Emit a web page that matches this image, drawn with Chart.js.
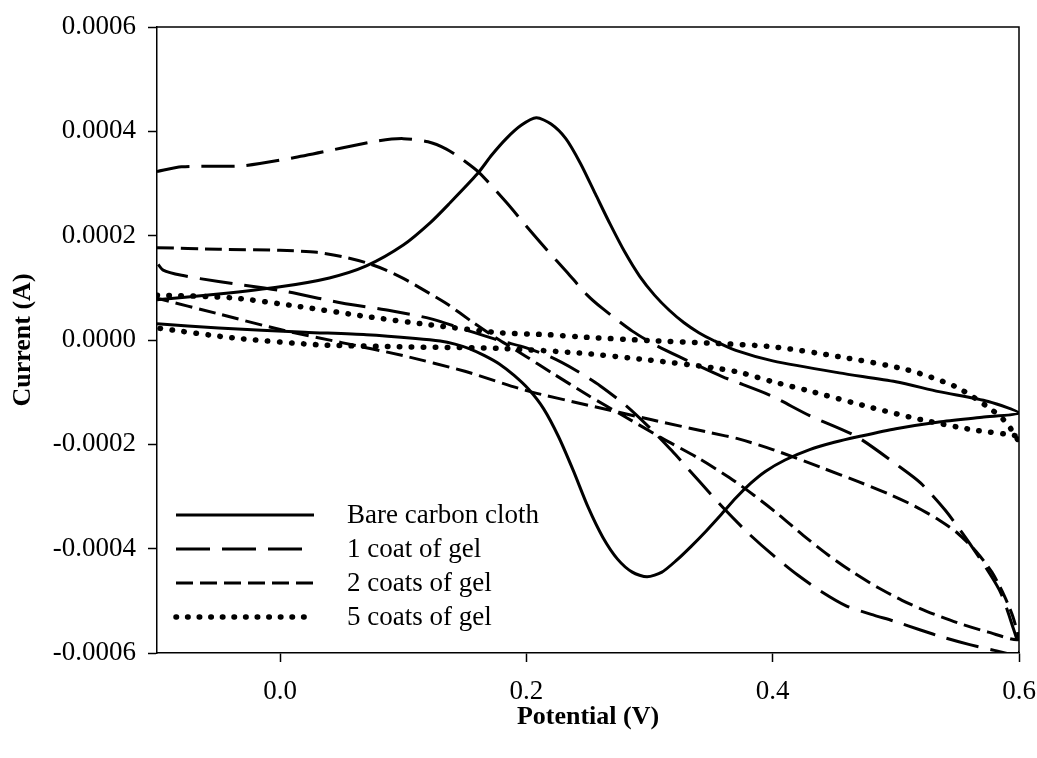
<!DOCTYPE html>
<html>
<head>
<meta charset="utf-8">
<script src="https://cdn.jsdelivr.net/npm/chart.js@4.4.0/dist/chart.umd.min.js"></script>
<style>
  html, body { margin: 0; padding: 0; background: #fff; }
  #wrap { width: 1037px; height: 758px; }
</style>
</head>
<body>
<div id="wrap"><canvas id="cvChart"></canvas></div>
<script>
// cyclic voltammograms: potential (V) out to 0.6 V and back, current (A)

var bareV = [-0.1, -0.05, 0.0, 0.04, 0.07, 0.1, 0.122, 0.138, 0.16, 0.172, 0.184, 0.196, 0.208, 0.22, 0.232, 0.244, 0.256, 0.268, 0.28, 0.292, 0.304, 0.316, 0.328, 0.34, 0.352, 0.37, 0.4, 0.454, 0.5, 0.535, 0.575, 0.6,
  0.57, 0.535, 0.5, 0.47, 0.45, 0.43, 0.41, 0.394, 0.382, 0.37, 0.358, 0.346, 0.334, 0.322, 0.31, 0.298, 0.286, 0.274, 0.262, 0.25, 0.238, 0.226, 0.214, 0.202, 0.19, 0.178, 0.166, 0.154, 0.142, 0.13, 0.11, 0.07, 0.02, -0.05, -0.1]
var bareI = [0.77e-4, 0.88e-4, 1.02e-4, 1.19e-4, 1.42e-4, 1.82e-4, 2.25e-4, 2.63e-4, 3.18e-4, 3.55e-4, 3.87e-4, 4.12e-4, 4.26e-4, 4.14e-4, 3.86e-4, 3.38e-4, 2.8e-4, 2.22e-4, 1.68e-4, 1.22e-4, 0.86e-4, 0.57e-4, 0.33e-4, 0.14e-4, -0.01e-4, -0.2e-4, -0.4e-4, -0.63e-4, -0.8e-4, -0.99e-4, -1.18e-4, -1.40e-4,
  -1.48e-4, -1.57e-4, -1.7e-4, -1.85e-4, -1.96e-4, -2.1e-4, -2.3e-4, -2.52e-4, -2.75e-4, -3.03e-4, -3.35e-4, -3.66e-4, -3.95e-4, -4.22e-4, -4.45e-4, -4.54e-4, -4.45e-4, -4.2e-4, -3.78e-4, -3.2e-4, -2.5e-4, -1.85e-4, -1.32e-4, -0.95e-4, -0.68e-4, -0.46e-4, -0.3e-4, -0.17e-4, -0.08e-4, -0.02e-4, 0.03e-4, 0.1e-4, 0.15e-4, 0.23e-4, 0.31e-4]

var coat1V = [-0.1, -0.08, -0.03, 0.01, 0.05, 0.08, 0.1, 0.12, 0.135, 0.148, 0.162, 0.184, 0.2, 0.2165, 0.233, 0.249, 0.262, 0.286, 0.305, 0.324, 0.359, 0.397, 0.43, 0.468, 0.503, 0.52, 0.54, 0.562, 0.584, 0.594, 0.6,
  0.58, 0.56, 0.54, 0.52, 0.5, 0.48, 0.46, 0.44, 0.42, 0.4, 0.38, 0.36, 0.34, 0.318, 0.3, 0.282, 0.26, 0.24, 0.22, 0.2, 0.178, 0.15, 0.122, 0.09, 0.05, 0.0, -0.05, -0.08, -0.095, -0.1]
var coat1I = [3.23e-4, 3.32e-4, 3.34e-4, 3.49e-4, 3.68e-4, 3.82e-4, 3.86e-4, 3.8e-4, 3.66e-4, 3.46e-4, 3.2e-4, 2.63e-4, 2.18e-4, 1.73e-4, 1.3e-4, 0.87e-4, 0.6e-4, 0.17e-4, -0.1e-4, -0.32e-4, -0.7e-4, -1.05e-4, -1.45e-4, -1.85e-4, -2.43e-4, -2.74e-4, -3.26e-4, -3.97e-4, -4.79e-4, -5.43e-4, -6.02e-4,
  -5.95e-4, -5.84e-4, -5.71e-4, -5.56e-4, -5.4e-4, -5.26e-4, -5.1e-4, -4.83e-4, -4.5e-4, -4.12e-4, -3.7e-4, -3.22e-4, -2.7e-4, -2.12e-4, -1.68e-4, -1.28e-4, -0.88e-4, -0.58e-4, -0.33e-4, -0.15e-4, -0.01e-4, 0.2e-4, 0.41e-4, 0.56e-4, 0.71e-4, 0.95e-4, 1.12e-4, 1.24e-4, 1.34e-4, 1.48e-4]

var coat2V = [-0.1, -0.05, 0.0, 0.03, 0.05, 0.07, 0.085, 0.1, 0.115, 0.135, 0.157, 0.178, 0.2, 0.22, 0.25, 0.28, 0.31, 0.34, 0.365, 0.385, 0.405, 0.425, 0.445, 0.465, 0.485, 0.505, 0.525, 0.55, 0.575, 0.6,
  0.595, 0.588, 0.578, 0.565, 0.55, 0.535, 0.515, 0.494, 0.47, 0.44, 0.4, 0.373, 0.35, 0.3, 0.25, 0.2, 0.15, 0.1, 0.05, 0.0, -0.05, -0.1]
var coat2I = [1.77e-4, 1.74e-4, 1.72e-4, 1.68e-4, 1.6e-4, 1.48e-4, 1.35e-4, 1.18e-4, 0.98e-4, 0.7e-4, 0.33e-4, 0.0, -0.32e-4, -0.62e-4, -1.06e-4, -1.47e-4, -1.88e-4, -2.27e-4, -2.64e-4, -2.98e-4, -3.35e-4, -3.75e-4, -4.12e-4, -4.45e-4, -4.74e-4, -4.99e-4, -5.2e-4, -5.42e-4, -5.6e-4, -5.74e-4,
  -5.3e-4, -4.9e-4, -4.45e-4, -4.05e-4, -3.7e-4, -3.45e-4, -3.18e-4, -2.95e-4, -2.72e-4, -2.45e-4, -2.1e-4, -1.9e-4, -1.78e-4, -1.52e-4, -1.25e-4, -0.97e-4, -0.6e-4, -0.3e-4, -0.05e-4, 0.2e-4, 0.5e-4, 0.8e-4]

var coat5V = [-0.1, -0.04, 0.016, 0.07, 0.122, 0.178, 0.219, 0.243, 0.3, 0.35, 0.4, 0.454, 0.509, 0.549, 0.578, 0.59, 0.6,
  0.6, 0.562, 0.521, 0.481, 0.427, 0.4, 0.373, 0.351, 0.298, 0.243, 0.178, 0.097, 0.03, -0.038, -0.1]
var coat5I = [0.86e-4, 0.81e-4, 0.64e-4, 0.45e-4, 0.29e-4, 0.14e-4, 0.1e-4, 0.06e-4, -0.01e-4, -0.06e-4, -0.13e-4, -0.32e-4, -0.57e-4, -0.9e-4, -1.34e-4, -1.59e-4, -1.94e-4,
  -1.85e-4, -1.72e-4, -1.53e-4, -1.3e-4, -0.96e-4, -0.8e-4, -0.62e-4, -0.53e-4, -0.38e-4, -0.25e-4, -0.16e-4, -0.13e-4, -0.09e-4, 0.04e-4, 0.23e-4]

var seriesNames = ['Bare carbon cloth', '1 coat of gel', '2 coats of gel', '5 coats of gel']

var xTicks = [0.0, 0.2, 0.4, 0.6]
var xTickLabels = ['0.0', '0.2', '0.4', '0.6']
var yTicks = [-0.0006, -0.0004, -0.0002, 0, 0.0002, 0.0004, 0.0006]
var yTickLabels = ['-0.0006', '-0.0004', '-0.0002', '0.0000', '0.0002', '0.0004', '0.0006']

function pairs(xs, ys){
  return xs.map(function(v, i){ return {x: v, y: ys[i]} })
}

var lineStyles = [
  {dash: [], width: 3, cap: 'butt'},
  {dash: [33, 12], width: 3, cap: 'butt'},
  {dash: [17, 7], width: 3, cap: 'butt'},
  {dash: [0.5, 11.5], width: 5.5, cap: 'round'}
]

var allData = [pairs(bareV, bareI), pairs(coat1V, coat1I), pairs(coat2V, coat2I), pairs(coat5V, coat5I)]

var datasets = allData.map(function(d, i){
  return {
    label: seriesNames[i],
    data: d,
    showLine: true,
    borderColor: '#000',
    backgroundColor: '#000',
    borderWidth: lineStyles[i].width,
    borderDash: lineStyles[i].dash,
    borderCapStyle: lineStyles[i].cap,
    borderJoinStyle: 'round',
    pointRadius: 0,
    tension: 0.25,
    fill: false
  }
})

// box outline on top/right and the legend inside the plot
var framePlugin = {
  id: 'frameAndKey',
  afterDatasetsDraw: function(chart){
    var ctx = chart.ctx
    var a = chart.chartArea
    ctx.save()
    ctx.strokeStyle = '#000'
    ctx.lineWidth = 1.5
    ctx.beginPath()
    ctx.moveTo(a.left, a.top)
    ctx.lineTo(a.right, a.top)
    ctx.lineTo(a.right, a.bottom)
    ctx.stroke()

    var rowY = [515, 549, 583, 617]
    var keyDash = [[], [34, 12], [17, 7], [0.5, 11.1]]
    for (var i = 0; i < seriesNames.length; i++) {
      ctx.beginPath()
      ctx.setLineDash(keyDash[i])
      ctx.lineWidth = lineStyles[i].width
      ctx.lineCap = lineStyles[i].cap
      ctx.moveTo(176, rowY[i])
      ctx.lineTo(314, rowY[i])
      ctx.stroke()
      ctx.setLineDash([])
      ctx.fillStyle = '#000'
      ctx.font = '27px "Liberation Serif"'
      ctx.textBaseline = 'middle'
      ctx.textAlign = 'left'
      ctx.fillText(seriesNames[i], 347, rowY[i] + 1)
    }
    ctx.restore()
  }
}

Chart.defaults.font.family = '"Liberation Serif", "Times New Roman", serif'
Chart.defaults.font.size = 27
Chart.defaults.color = '#000'

var ctx = document.getElementById('cvChart').getContext('2d')
var myChart = new Chart(ctx, {
  type: 'scatter',
  data: { datasets: datasets },
  plugins: [framePlugin],
  options: {
    responsive: true,
    maintainAspectRatio: false,
    animation: false,
    layout: { padding: { left: 0, right: 18, top: 27, bottom: 0 } },
    plugins: {
      legend: { display: false },
      tooltip: { enabled: false }
    },
    scales: {
      x: {
        type: 'linear',
        min: -0.1,
        max: 0.6,
        afterBuildTicks: function(s){ s.ticks = xTicks.map(function(v){ return {value: v} }) },
        afterFit: function(s){
          s.height = 105
          s.paddingLeft = 0
          s.paddingRight = 0
        },
        ticks: {
          autoSkip: false,
          maxRotation: 0,
          padding: 14,
          callback: function(v, i){ return xTickLabels[i] }
        },
        grid: { drawOnChartArea: false, tickLength: 9, tickWidth: 1.5, tickColor: '#000' },
        border: { display: true, color: '#000', width: 1.5 },
        title: {
          display: true,
          text: 'Potential (V)',
          font: { size: 26, weight: 'bold' },
          padding: { top: 0, bottom: 25 }
        }
      },
      y: {
        type: 'linear',
        min: -0.0006,
        max: 0.0006,
        afterBuildTicks: function(s){ s.ticks = yTicks.map(function(v){ return {value: v} }) },
        afterFit: function(s){
          s.width = 157
          s.paddingTop = 0
          s.paddingBottom = 0
        },
        ticks: {
          autoSkip: false,
          padding: 12,
          callback: function(v, i){ return yTickLabels[i] }
        },
        grid: { drawOnChartArea: false, tickLength: 9, tickWidth: 1.5, tickColor: '#000' },
        border: { display: true, color: '#000', width: 1.5 },
        title: {
          display: true,
          text: 'Current (A)',
          font: { size: 26, weight: 'bold' },
          padding: { top: 8, bottom: 0 }
        }
      }
    }
  }
})
</script>
</body>
</html>
